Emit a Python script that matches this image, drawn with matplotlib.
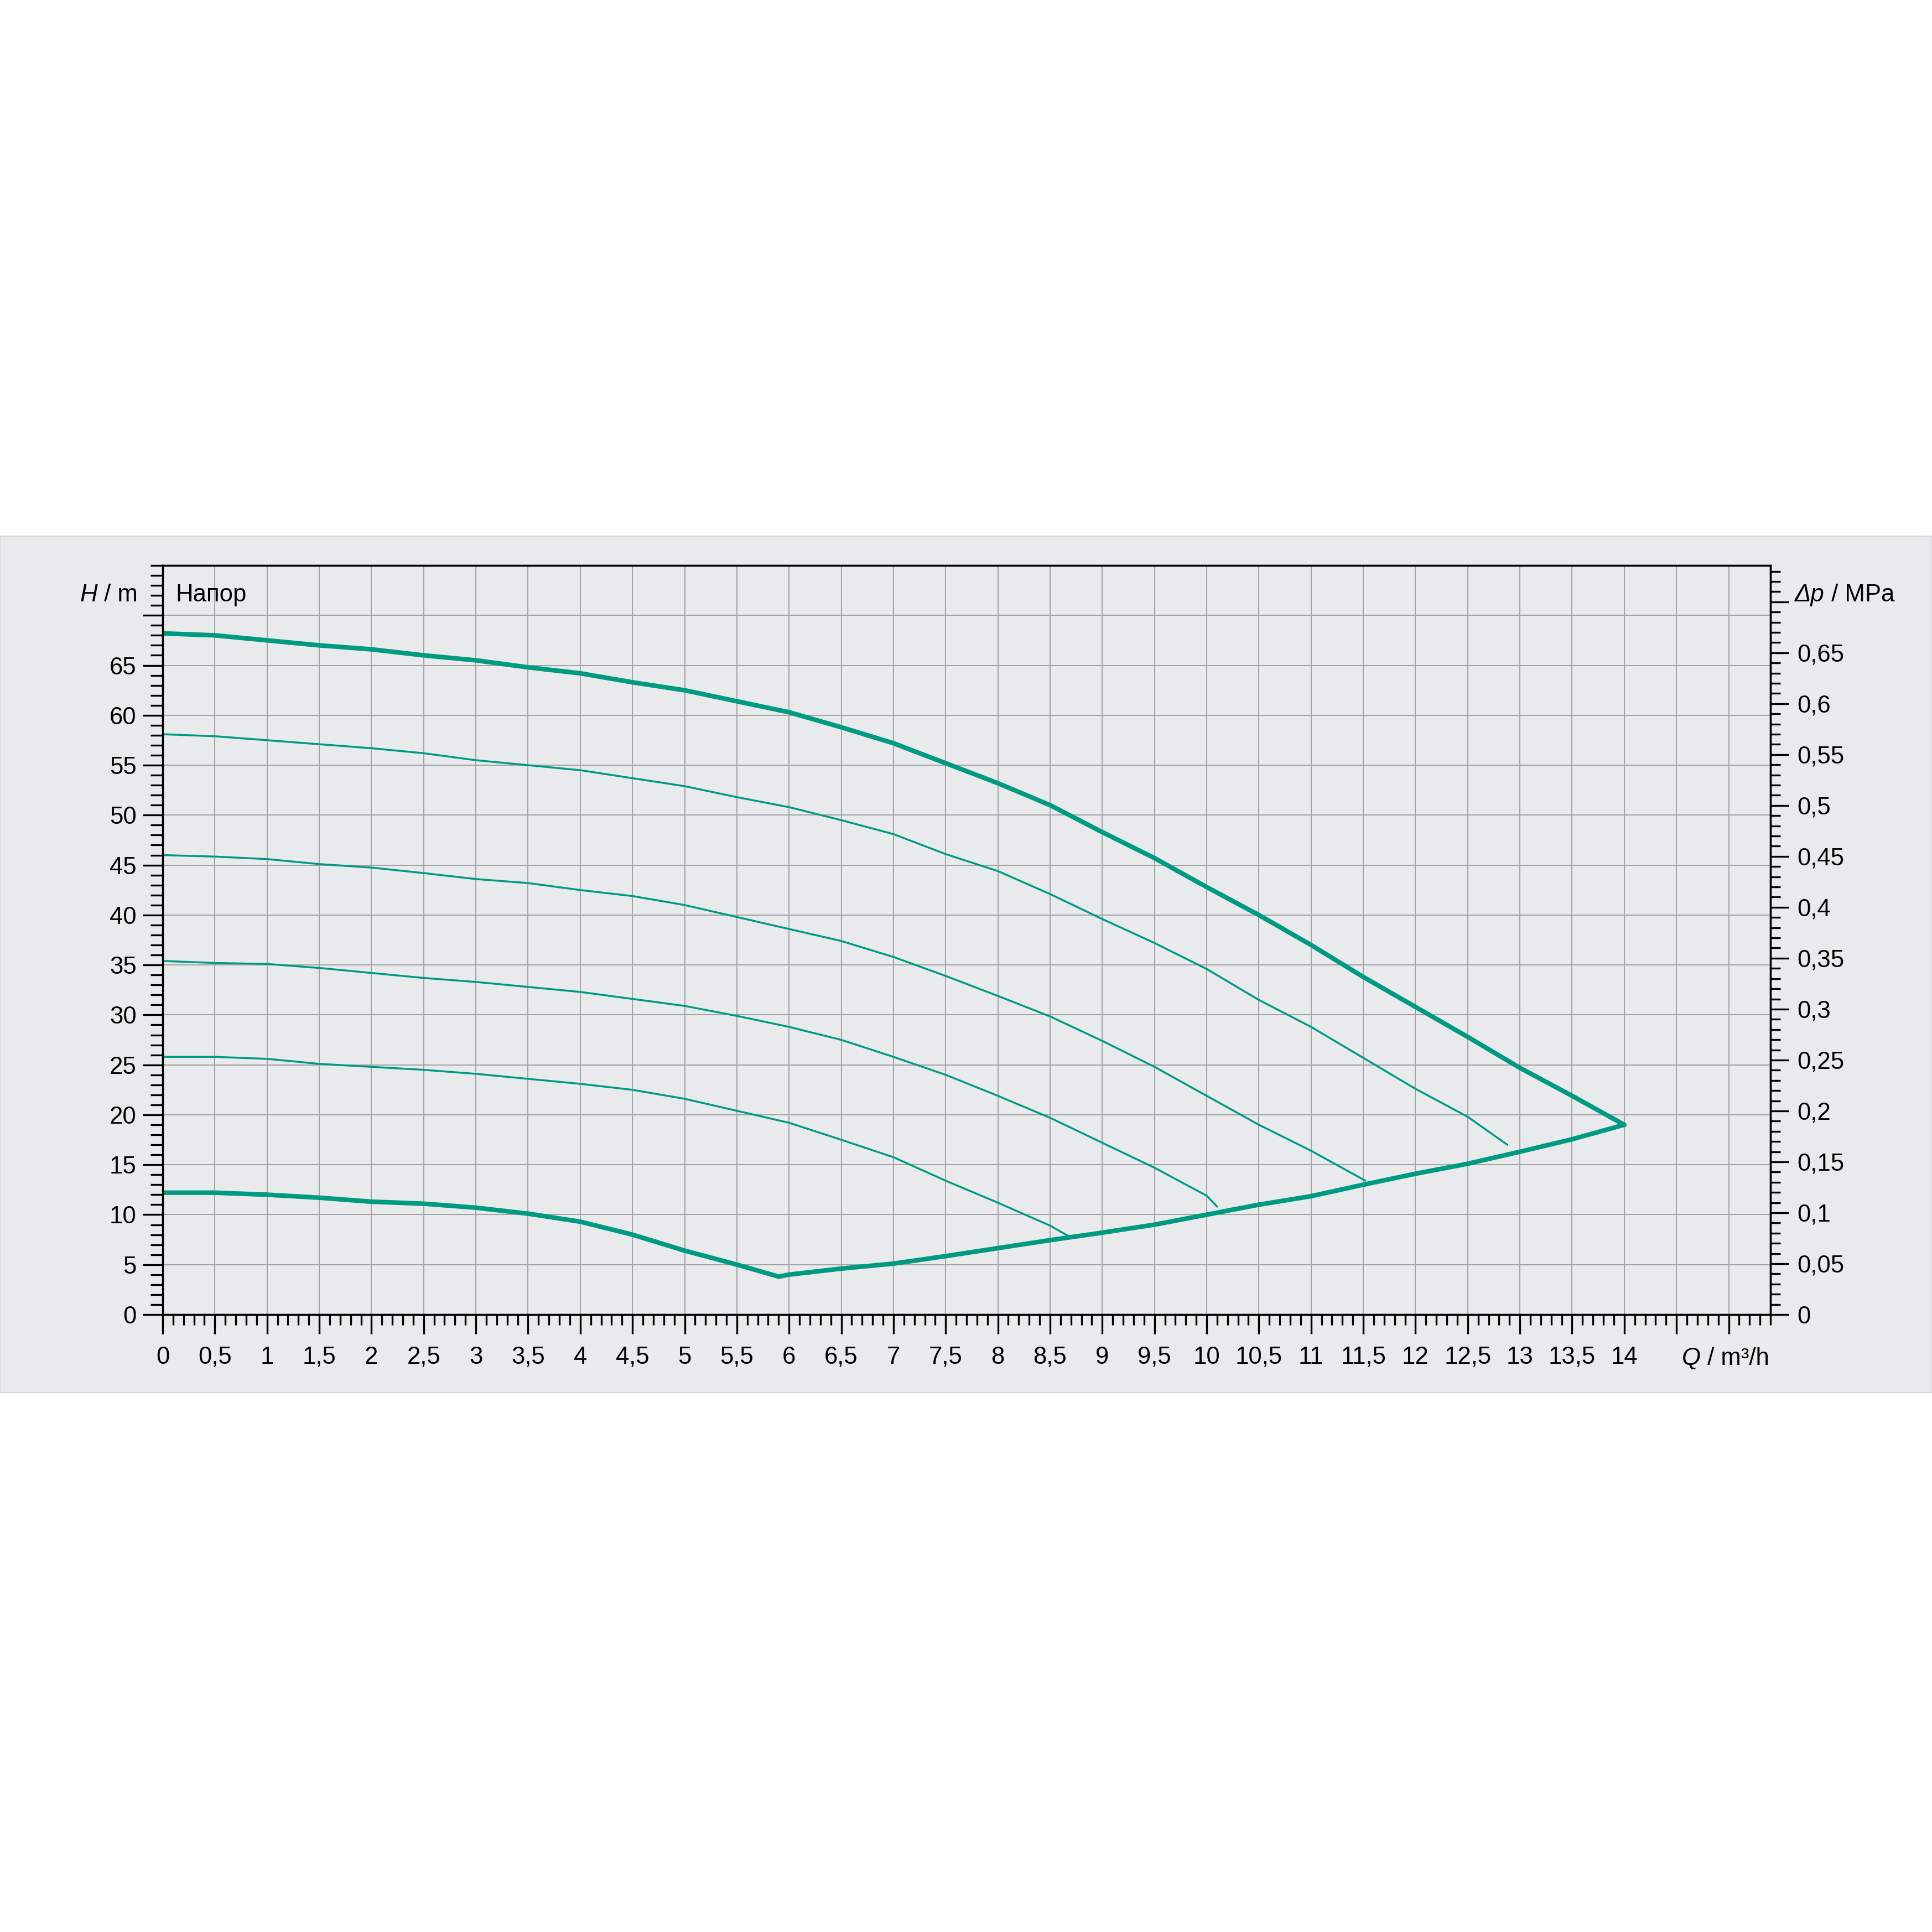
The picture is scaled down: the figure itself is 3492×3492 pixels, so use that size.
import matplotlib
matplotlib.use("Agg")
import matplotlib.pyplot as plt
from matplotlib.patches import Rectangle
from matplotlib.ticker import MultipleLocator, FixedLocator, FixedFormatter

plt.rcParams['font.family'] = ['Liberation Sans', 'DejaVu Sans']

# pump curves, Q in m3/h, H in m
q_max = [0, 0.5, 1, 1.5, 2, 2.5, 3, 3.5, 4, 4.5, 5, 5.5, 6, 6.5, 7, 7.5, 8, 8.5,
         9, 9.5, 10, 10.5, 11, 11.5, 12, 12.5, 13, 13.5, 14]
h_max = [68.2, 68.0, 67.5, 67.0, 66.6, 66.0, 65.5, 64.8, 64.2, 63.3, 62.5, 61.4,
         60.3, 58.8, 57.2, 55.2, 53.2, 51.0, 48.3, 45.7, 42.8, 40.0, 37.0, 33.8,
         30.8, 27.8, 24.7, 21.9, 19.0]

q_58 = [0, 0.5, 1, 1.5, 2, 2.5, 3, 3.5, 4, 4.5, 5, 5.5, 6, 6.5, 7, 7.5, 8, 8.5,
        9, 9.5, 10, 10.5, 11, 11.5, 12, 12.5, 12.88]
h_58 = [58.1, 57.9, 57.5, 57.1, 56.7, 56.2, 55.5, 55.0, 54.5, 53.7, 52.9, 51.8,
        50.8, 49.5, 48.1, 46.1, 44.4, 42.1, 39.6, 37.2, 34.6, 31.5, 28.8, 25.7,
        22.6, 19.8, 17.0]

q_46 = [0, 0.5, 1, 1.5, 2, 2.5, 3, 3.5, 4, 4.5, 5, 5.5, 6, 6.5, 7, 7.5, 8, 8.5,
        9, 9.5, 10, 10.5, 11, 11.52]
h_46 = [46.0, 45.85, 45.6, 45.1, 44.75, 44.2, 43.6, 43.2, 42.5, 41.9, 41.0, 39.8,
        38.6, 37.4, 35.8, 33.9, 31.9, 29.85, 27.4, 24.8, 21.9, 19.0, 16.4, 13.4]

q_35 = [0, 0.5, 1, 1.5, 2, 2.5, 3, 3.5, 4, 4.5, 5, 5.5, 6, 6.5, 7, 7.5, 8, 8.5,
        9, 9.5, 10, 10.1]
h_35 = [35.4, 35.2, 35.1, 34.7, 34.2, 33.7, 33.3, 32.8, 32.3, 31.6, 30.9, 29.9,
        28.8, 27.5, 25.8, 24.0, 21.9, 19.7, 17.2, 14.7, 11.9, 10.8]

q_26 = [0, 0.5, 1, 1.5, 2, 2.5, 3, 3.5, 4, 4.5, 5, 5.5, 6, 6.5, 7, 7.5, 8, 8.5, 8.67]
h_26 = [25.8, 25.8, 25.6, 25.1, 24.8, 24.5, 24.1, 23.6, 23.1, 22.5, 21.6, 20.4,
        19.2, 17.5, 15.75, 13.4, 11.2, 8.9, 7.9]

# min speed curve followed by the max flow limit line
q_min = [0, 0.5, 1, 1.5, 2, 2.5, 3, 3.5, 4, 4.5, 5, 5.5, 5.9,
         6, 6.5, 7, 7.5, 8, 8.5, 9, 9.5, 10, 10.5, 11, 11.5, 12, 12.5, 13, 13.5, 14]
h_min = [12.2, 12.2, 12.0, 11.7, 11.3, 11.1, 10.7, 10.1, 9.3, 8.0, 6.4, 5.0, 3.8,
         4.0, 4.6, 5.1, 5.85, 6.65, 7.45, 8.2, 9.0, 10.0, 11.0, 11.85, 13.0, 14.1,
         15.1, 16.3, 17.55, 19.0]

thin_curves = [(q_58, h_58), (q_46, h_46), (q_35, h_35), (q_26, h_26)]

h_ticks = [0, 5, 10, 15, 20, 25, 30, 35, 40, 45, 50, 55, 60, 65, 70]
h_labels = ['0', '5', '10', '15', '20', '25', '30', '35', '40', '45', '50', '55',
            '60', '65', '']
p_ticks = [0, 0.05, 0.1, 0.15, 0.2, 0.25, 0.3, 0.35, 0.4, 0.45, 0.5, 0.55, 0.6,
           0.65, 0.7]
p_labels = ['0', '0,05', '0,1', '0,15', '0,2', '0,25', '0,3', '0,35', '0,4',
            '0,45', '0,5', '0,55', '0,6', '0,65', '']
q_ticks = [0, 0.5, 1, 1.5, 2, 2.5, 3, 3.5, 4, 4.5, 5, 5.5, 6, 6.5, 7, 7.5, 8,
           8.5, 9, 9.5, 10, 10.5, 11, 11.5, 12, 12.5, 13, 13.5, 14, 14.5, 15]
q_labels = ['0', '0,5', '1', '1,5', '2', '2,5', '3', '3,5', '4', '4,5', '5',
            '5,5', '6', '6,5', '7', '7,5', '8', '8,5', '9', '9,5', '10', '10,5',
            '11', '11,5', '12', '12,5', '13', '13,5', '14', '', '']

MPA_PER_M = 0.00981
W = 3492.0
teal = '#009a82'
bg = '#e9eaec'
FS = 31.5

fig = plt.figure(figsize=(34.92, 34.92), dpi=100, facecolor='white')
fig.patches.append(Rectangle((0, 1 - 2517 / W), 1, (2517 - 969) / W,
                             transform=fig.transFigure, facecolor=bg,
                             edgecolor='#d3d6d9', lw=1.5, zorder=-5))

ax = fig.add_axes([294 / W, 1 - 2376 / W, (3200 - 294) / W, (2376 - 1022) / W])
ax.set_facecolor(bg)
ax.set_xlim(0, 15.4)
ax.set_ylim(0, 75)

for q, h in thin_curves:
    ax.plot(q, h, color=teal, lw=2.5, solid_capstyle='round', zorder=3)
ax.plot(q_max, h_max, color=teal, lw=6, solid_capstyle='round',
        solid_joinstyle='round', zorder=4)
ax.plot(q_min, h_min, color=teal, lw=6, solid_capstyle='round',
        solid_joinstyle='round', zorder=4)

ax.xaxis.set_major_locator(FixedLocator(q_ticks))
ax.xaxis.set_major_formatter(FixedFormatter(q_labels))
ax.xaxis.set_minor_locator(MultipleLocator(0.1))
ax.yaxis.set_major_locator(FixedLocator(h_ticks))
ax.yaxis.set_major_formatter(FixedFormatter(h_labels))
ax.yaxis.set_minor_locator(MultipleLocator(1))

ax.set_axisbelow(True)
ax.grid(True, which='major', color='#a2a2a4', lw=1.4)

ax.tick_params(axis='x', which='major', direction='out', length=25, width=2.4,
               pad=16, labelsize=FS, colors='black')
ax.tick_params(axis='x', which='minor', direction='out', length=13.5, width=2.4)
ax.tick_params(axis='y', which='major', direction='out', length=26, width=2.4,
               pad=8, labelsize=FS, left=True, right=False)
ax.tick_params(axis='y', which='minor', direction='out', length=15.5, width=2.4,
               left=True, right=False)

ax2 = ax.twinx()
ax2.set_ylim(0, 75 * MPA_PER_M)
ax2.yaxis.set_major_locator(FixedLocator(p_ticks))
ax2.yaxis.set_major_formatter(FixedFormatter(p_labels))
ax2.yaxis.set_minor_locator(MultipleLocator(0.01))
ax2.tick_params(axis='y', which='major', direction='out', length=24, width=2.4,
                pad=11, labelsize=FS)
ax2.tick_params(axis='y', which='minor', direction='out', length=13, width=2.4)

for a in (ax, ax2):
    for s in a.spines.values():
        s.set_color('black')
        s.set_linewidth(2.4)
        s.set_zorder(5)

# axis names
def label_pair(x, y, it_part, rest, side):
    if side == 'left':
        t1 = fig.text(x, y, it_part, style='italic', ha='left', va='baseline',
                      fontsize=FS)
        ax2.annotate(rest, xy=(1, 0), xycoords=t1, ha='left', va='bottom',
                     fontsize=FS, annotation_clip=False)
    else:
        t2 = fig.text(x, y, rest, ha='right', va='baseline', fontsize=FS)
        ax2.annotate(it_part, xy=(0, 0), xycoords=t2, ha='right', va='bottom',
                     fontsize=FS, style='italic', annotation_clip=False)

label_pair(249 / W, 1 - 1087 / W, 'H', ' / m', 'right')
label_pair(3244 / W, 1 - 1087 / W, '\u0394p', ' / MPa', 'left')
label_pair(3198 / W, 1 - 2467 / W, 'Q', ' / m\u00b3/h', 'right')
fig.text(317 / W, 1 - 1087 / W, 'Напор', ha='left', va='baseline', fontsize=FS)

fig.savefig('out.png', dpi=100, facecolor='white')
